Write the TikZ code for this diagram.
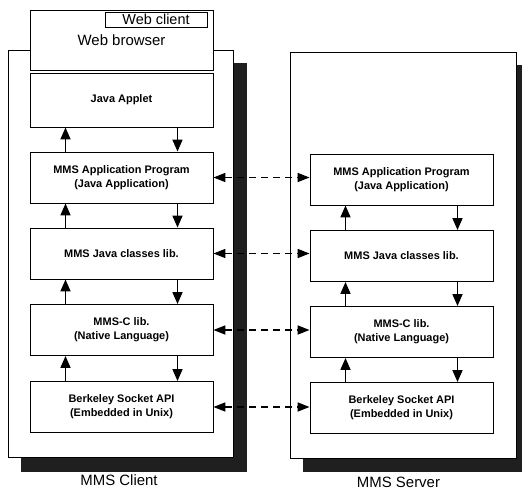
\documentclass[tikz,border=0pt]{standalone}
\usepackage{fontspec}
\setmainfont{Liberation Sans}
\usetikzlibrary{arrows.meta}
\begin{document}
\begin{tikzpicture}[x=1bp, y=-1bp,
    frame/.style={draw, fill=white, line width=0.8bp},
    shade/.style={fill=black!88},
    layer/.style={draw, fill=white, line width=0.9bp, inner sep=0pt,
      minimum width=183bp, minimum height=51bp, align=center,
      font=\fontsize{11}{14}\selectfont\bfseries},
    title/.style={font=\fontsize{15}{18}\selectfont},
    flow/.style={-{Triangle[length=12bp,width=10bp]}, line width=1.6bp},
    peer/.style={{Triangle[length=12bp,width=9bp]}-{Triangle[length=12bp,width=9bp]},
      line width=1.7bp, dash pattern=on 7bp off 5bp}]

    \clip (0,0) rectangle (522,491);
    \fill[white] (0,0) rectangle (522,491);

    % client and server frames with their shadows
    \fill[shade] (21,63) rectangle (247,472);
    \draw[frame] (8,50) rectangle (233,457);
    \fill[shade] (303,65) rectangle (530,472);
    \draw[frame] (290,52) rectangle (516,458);

    % web browser on top of the client
    \node[frame, minimum width=183bp, minimum height=60bp, inner sep=0pt, title] (browser) at (121.5,40) {Web browser};
    \node[draw, line width=0.8bp, minimum width=102bp, minimum height=15bp, inner sep=0pt,
      font=\fontsize{14.5}{16}\selectfont] (webclient) at (156,19.5) {Web client};

    % client layers
    \node[layer, minimum height=54bp] (cApplet) at (121.5,100) {Java Applet};
    \node[layer] (cApp) at (121.5,177.5) {MMS Application Program\\(Java Application)};
    \node[layer] (cJava) at (121.5,253.5) {MMS Java classes lib.};
    \node[layer] (cMmsc) at (121.5,330) {MMS-C lib.\\(Native Language)};
    \node[layer] (cSock) at (121.5,407) {Berkeley Socket API\\(Embedded in Unix)};

    % server layers
    \node[layer] (sApp) at (401.5,179.5) {MMS Application Program\\(Java Application)};
    \node[layer] (sJava) at (401.5,256) {MMS Java classes lib.};
    \node[layer] (sMmsc) at (401.5,332) {MMS-C lib.\\(Native Language)};
    \node[layer] (sSock) at (401.5,408) {Berkeley Socket API\\(Embedded in Unix)};

    % up and down between layers
    \foreach \a/\b in {cApp/cApplet, cJava/cApp, cMmsc/cJava, cSock/cMmsc,
                       sJava/sApp, sMmsc/sJava, sSock/sMmsc} {
        \draw[flow] ([xshift=-56bp]\a.north) -- ([xshift=-56bp]\b.south);
        \draw[flow] ([xshift=56bp]\b.south) -- ([xshift=56bp]\a.north);
    }

    % peer to peer
    \foreach \n in {App, Java, Mmsc, Sock}
        \draw[peer] (c\n.east) -- (c\n.east -| s\n.west);

    \node[title] (cLabel) at (119,480) {MMS Client};
    \node[title] (sLabel) at (398.5,482) {MMS Server};
\end{tikzpicture}
\end{document}
